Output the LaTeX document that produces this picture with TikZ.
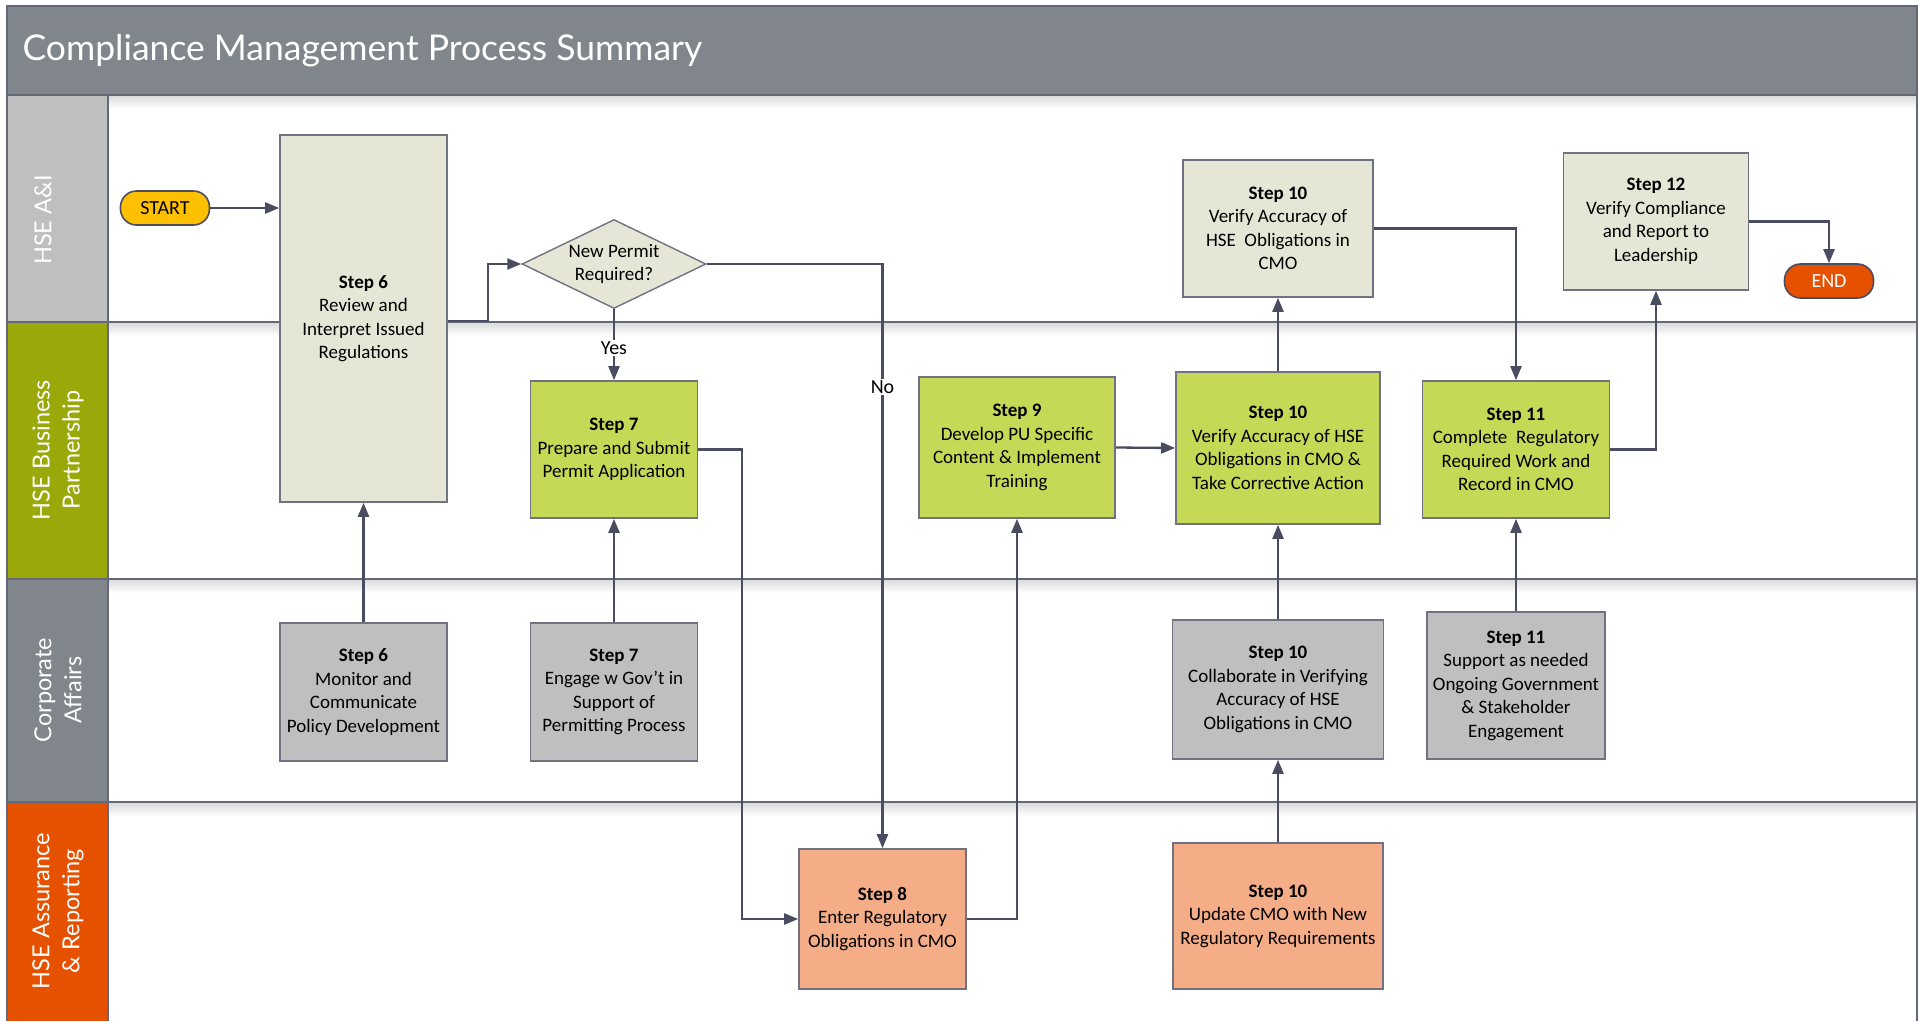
\documentclass[tikz,border=0pt]{standalone}
\usepackage{fontspec}
\setmainfont{Carlito}
\newfontfamily\headfont{Lato}
\usetikzlibrary{arrows.meta,shapes.geometric}
\definecolor{titlegray}{RGB}{128,134,139}
\definecolor{lanelight}{RGB}{191,191,191}
\definecolor{laneolive}{RGB}{154,168,10}
\definecolor{laneorange}{RGB}{230,81,0}
\definecolor{linedark}{RGB}{74,76,98}
\definecolor{edgegray}{RGB}{112,114,130}
\definecolor{beige}{RGB}{230,230,214}
\definecolor{lime}{RGB}{197,217,86}
\definecolor{boxgray}{RGB}{191,191,191}
\definecolor{salmon}{RGB}{244,173,135}
\definecolor{gold}{RGB}{255,192,0}
\tikzset{
    stepbox/.style={draw=edgegray, line width=1.6pt, align=center, inner sep=2pt,
        font=\fontsize{19}{23.5}\selectfont},
    beigebox/.style={stepbox, fill=beige},
    limebox/.style={stepbox, fill=lime},
    graybox/.style={stepbox, fill=boxgray},
    salmonbox/.style={stepbox, fill=salmon},
    pill/.style={draw=linedark, line width=1.6pt, rounded corners=16pt, minimum width=89pt,
        minimum height=34pt, font=\fontsize{20}{23}\selectfont},
    decision/.style={diamond, aspect=2, draw=edgegray, line width=1.4pt, fill=beige, inner sep=0pt,
        minimum width=184pt, minimum height=89pt, align=center, font=\fontsize{19}{23.5}\selectfont},
    flow/.style={draw=linedark, line width=2.3pt, -{Triangle[length=14pt,width=11pt]}},
    lbl/.style={fill=white, inner sep=1.5pt, font=\fontsize{20}{23}\selectfont},
    laneline/.style={draw=linedark!85, line width=2.2pt},
    lanetext/.style={rotate=90, text=white, align=center, font=\headfont\fontsize{23.5}{30}\selectfont}
}
\begin{document}
\begin{tikzpicture}[x=1pt, y=-1pt]
                \useasboundingbox (0,0) rectangle (1919,1021);
                \fill[white] (0,0) rectangle (1919,1021);
                \fill[titlegray] (7,6) rectangle (1917,95);
                \fill[lanelight] (7,95) rectangle (108,322);
                \fill[laneolive] (7,322) rectangle (108,579);
                \fill[titlegray] (7,579) rectangle (108,802);
                \fill[laneorange] (7,802) rectangle (108,1021);
                \foreach \y in {95,322,579,802}
                    \shade[top color=black!15, bottom color=white] (109,\y) rectangle (1916,\y+14);
                \foreach \y in {95,322,579,802}
                    \draw[laneline] (7,\y) -- (1917,\y);
                \draw[laneline] (108,95) -- (108,1021);
                \draw[laneline] (7,1021) -- (7,6) -- (1917,6) -- (1917,1021);
                \node[anchor=west, text=white, font=\headfont\fontsize{35.5}{40}\selectfont] (title) at (19,51)
                    {Compliance Management Process Summary};
                \node[lanetext] (laneai) at (43,220) {HSE A\&I};
                \node[lanetext] (lanebp) at (58,450) {HSE Business\\Partnership};
                \node[lanetext] (laneca) at (58,690) {Corporate\\Affairs};
                \node[lanetext] (lanear) at (58,911) {HSE Assurance\\\& Reporting};
                \node[pill, fill=gold] (start) at (165,208) {START};
                \node[pill, fill=laneorange, text=white] (finish) at (1829,281) {END};
                \node[beigebox, minimum width=167pt, minimum height=367pt] (review) at (363.5,318.5)
                    {\textbf{Step 6}\\Review and\\Interpret Issued\\Regulations};
                \node[decision] (permit) at (614,264) {New Permit\\Required?};
                \node[beigebox, minimum width=190pt, minimum height=137pt] (verifycmo) at (1278,228.5)
                    {\textbf{Step 10}\\Verify Accuracy of\\HSE\ \ Obligations in\\CMO};
                \node[beigebox, minimum width=185pt, minimum height=137pt] (report) at (1656,221.5)
                    {\textbf{Step 12}\\Verify Compliance\\and Report to\\Leadership};
                \node[limebox, minimum width=167pt, minimum height=137pt] (prepare) at (614,449.5)
                    {\textbf{Step 7}\\Prepare and Submit\\Permit Application};
                \node[limebox, minimum width=196pt, minimum height=141pt] (develop) at (1017,447.5)
                    {\textbf{Step 9}\\Develop PU Specific\\Content \& Implement\\Training};
                \node[limebox, minimum width=204pt, minimum height=152pt] (correct) at (1278,448)
                    {\textbf{Step 10}\\Verify Accuracy of HSE\\Obligations in CMO \&\\Take Corrective Action};
                \node[limebox, minimum width=187pt, minimum height=137pt] (complete) at (1516,449.5)
                    {\textbf{Step 11}\\Complete\ \ Regulatory\\Required Work and\\Record in CMO};
                \node[graybox, minimum width=167pt, minimum height=138pt] (monitor) at (363.5,692)
                    {\textbf{Step 6}\\Monitor and\\Communicate\\Policy Development};
                \node[graybox, minimum width=167pt, minimum height=138pt] (engage) at (614,692)
                    {\textbf{Step 7}\\Engage w Gov’t in\\Support of\\Permitting Process};
                \node[graybox, minimum width=211pt, minimum height=139pt] (collab) at (1278,689.5)
                    {\textbf{Step 10}\\Collaborate in Verifying\\Accuracy of HSE\\Obligations in CMO};
                \node[graybox, minimum width=178pt, minimum height=147pt] (support) at (1516,685.5)
                    {\textbf{Step 11}\\Support as needed\\Ongoing Government\\\& Stakeholder\\Engagement};
                \node[salmonbox, minimum width=167pt, minimum height=140pt] (enter) at (882.5,919)
                    {\textbf{Step 8}\\Enter Regulatory\\Obligations in CMO};
                \node[salmonbox, minimum width=210pt, minimum height=146pt] (update) at (1278,916)
                    {\textbf{Step 10}\\Update CMO with New\\Regulatory Requirements};
                \draw[flow] (start.east) -- (start.east -| review.west);
                \draw[flow] ([yshift=-2.5pt]review.east) -- ++(40,0) |- (permit.west);
                \draw[flow] (permit.south) -- node[lbl, pos=0.55] (yes) {Yes} (prepare.north);
                \draw[flow] (permit.east) -| node[lbl, pos=0.605] (no) {No} (enter.north);
                \draw[flow] (prepare.east) -- ++(44,0) |- (enter.west);
                \draw[flow] (enter.east) -| (develop.south);
                \draw[flow] (develop.east) -- (correct.west);
                \draw[flow] (correct.north) -- (verifycmo.south);
                \draw[flow] (verifycmo.east) -| (complete.north);
                \draw[flow] (complete.east) -| (report.south);
                \draw[flow] (report.east) -| (finish.north);
                \draw[flow] (monitor.north) -- (review.south);
                \draw[flow] (engage.north) -- (prepare.south);
                \draw[flow] (collab.north) -- (correct.south);
                \draw[flow] (update.north) -- (collab.south);
                \draw[flow] (support.north) -- (complete.south);
\end{tikzpicture}
\end{document}
